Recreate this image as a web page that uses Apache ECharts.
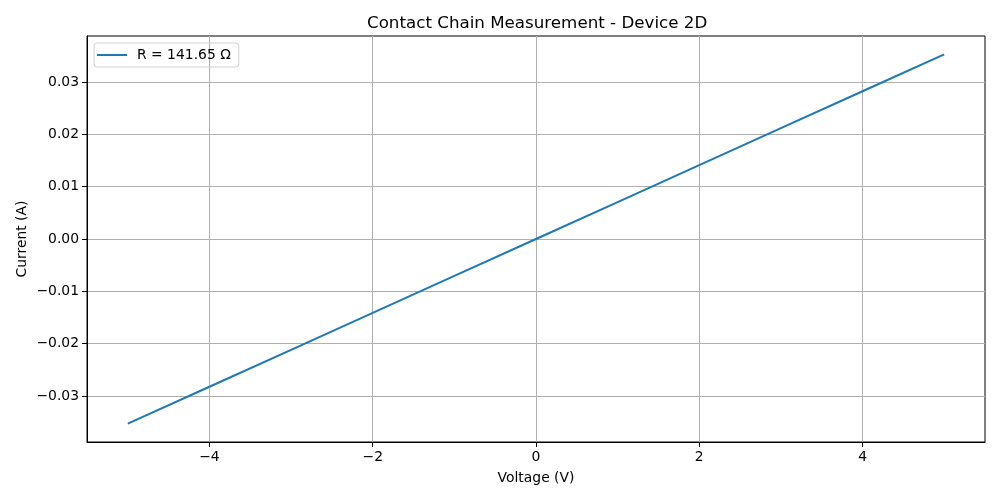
<!DOCTYPE html>
<html>
<head>
<meta charset="utf-8">
<script src="https://cdn.jsdelivr.net/npm/echarts@6/dist/echarts.min.js"></script>
<style>html,body{margin:0;padding:0;background:#fff}#c{width:1000px;height:500px}</style>
</head>
<body>
<div id="c"></div>
<script>
const voltage = [-5, -4, -3, -2, -1, 0, 1, 2, 3, 4, 5];
const current = [-0.0353, -0.02824, -0.02118, -0.01412, -0.00706, 0, 0.00706, 0.01412, 0.02118, 0.02824, 0.0353];
const xTicks = [-4, -2, 0, 2, 4];
const yTicks = [-0.03, -0.02, -0.01, 0, 0.01, 0.02, 0.03];
const seriesName = 'R = 141.65 Ω';
const titleText = 'Contact Chain Measurement - Device 2D';

const font = 'DejaVu Sans';
const fmtMinus = s => s.replace('-', '\u2212');
const chart = echarts.init(document.getElementById('c'));
chart.setOption({
  animation: false,
  backgroundColor: '#fff',
  title: {text: titleText, left: 367, top: 15, padding: 0,
    textStyle: {fontFamily: font, fontSize: 16.7, fontWeight: 'normal', color: '#000'}},
  legend: {left: 94, top: 43, orient: 'vertical', icon: 'rect', itemWidth: 30, itemHeight: 2,
    itemGap: 6, padding: [5, 8, 5, 3], borderColor: '#d0d0d0', borderWidth: 1, borderRadius: 3,
    textStyle: {fontFamily: font, fontSize: 13.9, color: '#000', padding: [0, 0, 0, 5]},
    data: [seriesName]},
  grid: {left: 87, right: 15, top: 36, bottom: 58, show: true, borderColor: '#000', borderWidth: 1},
  xAxis: {type: 'value', min: -5.5, max: 5.5,
    name: 'Voltage (V)', nameLocation: 'middle', nameGap: 29, nameMoveOverlap: false,
    nameTextStyle: {fontFamily: font, fontSize: 13.9, color: '#000'},
    axisLine: {show: true, onZero: false, lineStyle: {color: '#000'}},
    axisTick: {show: true, length: 5, customValues: xTicks, lineStyle: {color: '#000'}},
    axisLabel: {customValues: xTicks, fontFamily: font, fontSize: 13.9, color: '#000', margin: 8,
      formatter: v => fmtMinus(String(v))},
    splitLine: {show: true, lineStyle: {color: '#b0b0b0', width: 1}}},
  yAxis: {type: 'value', min: -0.0388, max: 0.0388,
    name: 'Current (A)', nameLocation: 'middle', nameGap: 58, nameRotate: 90, nameMoveOverlap: false,
    nameTextStyle: {fontFamily: font, fontSize: 13.9, color: '#000'},
    axisLine: {show: true, onZero: false, lineStyle: {color: '#000'}},
    axisTick: {show: true, length: 5, customValues: yTicks, lineStyle: {color: '#000'}},
    axisLabel: {customValues: yTicks, fontFamily: font, fontSize: 13.9, color: '#000', margin: 8,
      formatter: v => fmtMinus(v.toFixed(2))},
    splitLine: {show: true, lineStyle: {color: '#b0b0b0', width: 1}}},
  series: [{name: seriesName, type: 'line', showSymbol: false, symbol: 'none',
    data: voltage.map((v, i) => [v, current[i]]),
    lineStyle: {color: '#1f77b4', width: 2}, itemStyle: {color: '#1f77b4'}}]
});
</script>
</body>
</html>
